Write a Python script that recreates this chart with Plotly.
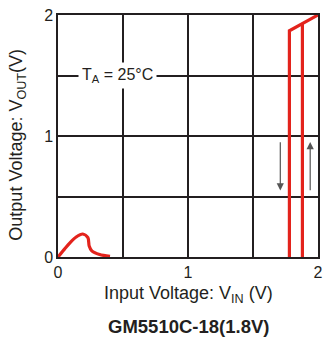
import plotly.graph_objects as go

# Data
bump_x = [0, 0.05, 0.09, 0.14, 0.19, 0.23, 0.24, 0.26, 0.32, 0.40]
bump_y = [0, 0.065, 0.115, 0.165, 0.19, 0.16, 0.09, 0.05, 0.02, 0.005]

rise_x = [1.78, 1.78, 2.0]
rise_y = [0, 1.87, 2.0]

fall_x = [1.88, 1.88]
fall_y = [0, 1.93]

tick_vals = [0, 0.5, 1, 1.5, 2]
tick_text = ["0", "", "1", "", "2"]

RED = "#e3231c"
INK = "#231f20"
FONT = "Liberation Sans, Arial, sans-serif"

fig = go.Figure()
fig.add_trace(go.Scatter(x=bump_x, y=bump_y, mode="lines",
                         line=dict(color=RED, width=3.2, shape="spline", smoothing=0.8),
                         showlegend=False, hoverinfo="skip"))
fig.add_trace(go.Scatter(x=rise_x, y=rise_y, mode="lines",
                         line=dict(color=RED, width=3.2),
                         showlegend=False, hoverinfo="skip"))
fig.add_trace(go.Scatter(x=fall_x, y=fall_y, mode="lines",
                         line=dict(color=RED, width=3.2),
                         showlegend=False, hoverinfo="skip"))

axis_common = dict(
    range=[0, 2], tickvals=tick_vals, ticktext=tick_text,
    showgrid=True, gridcolor=INK, gridwidth=1.5,
    showline=True, linecolor=INK, linewidth=1.5, mirror=True,
    zeroline=False, ticks="", fixedrange=True,
    tickfont=dict(family=FONT, size=16, color=INK),
)

fig.update_xaxes(**axis_common)
fig.update_yaxes(**axis_common)

# Axis titles
fig.add_annotation(x=0.5, y=-0.157, xref="paper", yref="paper",
                   text="Input Voltage: V<sub>IN</sub> (V)", showarrow=False,
                   xanchor="center", yanchor="middle",
                   font=dict(family=FONT, size=18, color=INK))
fig.add_annotation(x=-0.155, y=0.463, xref="paper", yref="paper",
                   text="Output Voltage: V<sub>OUT</sub>(V)", showarrow=False,
                   textangle=-90, xanchor="center", yanchor="middle",
                   font=dict(family=FONT, size=18, color=INK))

# Temperature label
fig.add_annotation(x=0.46, y=1.5, xref="x", yref="y",
                   text="T<sub>A</sub> = 25°C", showarrow=False,
                   bgcolor="white", borderpad=3,
                   font=dict(family=FONT, size=16, color=INK))

# Hysteresis arrows
fig.add_annotation(x=1.71, y=0.55, ax=1.71, ay=0.96, xref="x", yref="y",
                   axref="x", ayref="y", text="", showarrow=True,
                   arrowhead=2, arrowsize=1.2, arrowwidth=1.2, arrowcolor="#555555")
fig.add_annotation(x=1.94, y=0.95, ax=1.94, ay=0.54, xref="x", yref="y",
                   axref="x", ayref="y", text="", showarrow=True,
                   arrowhead=2, arrowsize=1.2, arrowwidth=1.2, arrowcolor="#555555")

# Bottom caption
fig.add_annotation(x=0.5, y=-0.289, xref="paper", yref="paper",
                   text="<b>GM5510C-18(1.8V)</b>", showarrow=False,
                   xanchor="center", yanchor="middle",
                   font=dict(family=FONT, size=18.5, color=INK))

fig.update_layout(
    width=326, height=338,
    margin=dict(l=58, r=3, t=15, b=81),
    plot_bgcolor="white", paper_bgcolor="white",
)

fig.write_html("out.html")
